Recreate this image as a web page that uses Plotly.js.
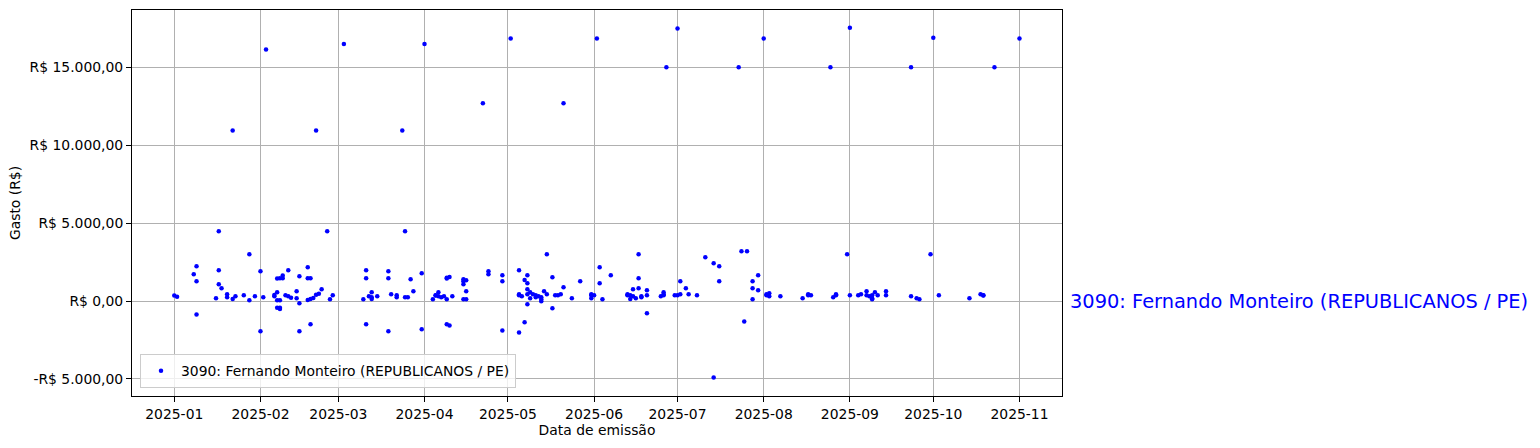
<!DOCTYPE html>
<html>
<head>
<meta charset="utf-8">
<script src="https://cdn.plot.ly/plotly-3.0.1.min.js"></script>
<style>html,body{margin:0;padding:0;background:#fff;}#chart{width:1540px;height:448px;}</style>
</head>
<body>
<div id="chart"></div>
<script>
const seriesName = "3090: Fernando Monteiro (REPUBLICANOS / PE)";

const dates = [
  "2025-01-01","2025-01-02","2025-01-08","2025-01-09","2025-01-09","2025-01-09","2025-01-16","2025-01-17","2025-01-17","2025-01-17",
  "2025-01-18","2025-01-20","2025-01-20","2025-01-22","2025-01-22","2025-01-23","2025-01-26","2025-01-28","2025-01-28","2025-01-30",
  "2025-02-01","2025-02-01","2025-02-02","2025-02-03","2025-02-06","2025-02-06","2025-02-07","2025-02-07","2025-02-08","2025-02-07",
  "2025-02-08","2025-02-09","2025-02-09","2025-02-07","2025-02-08","2025-02-08","2025-02-10","2025-02-11","2025-02-12","2025-02-11",
  "2025-02-14","2025-02-14","2025-02-15","2025-02-15","2025-02-15","2025-02-18","2025-02-18","2025-02-19","2025-02-19","2025-02-18",
  "2025-02-19","2025-02-20","2025-02-21","2025-02-21","2025-02-22","2025-02-23","2025-02-25","2025-02-26","2025-02-27",
  "2025-03-03","2025-03-10","2025-03-11","2025-03-11","2025-03-11","2025-03-12","2025-03-13","2025-03-13","2025-03-13","2025-03-15",
  "2025-03-19","2025-03-19","2025-03-19","2025-03-20","2025-03-22","2025-03-22","2025-03-24","2025-03-25","2025-03-25","2025-03-26",
  "2025-03-27","2025-03-28","2025-03-31","2025-03-31",
  "2025-04-01","2025-04-04","2025-04-05","2025-04-05","2025-04-06","2025-04-06","2025-04-07","2025-04-08","2025-04-09","2025-04-09",
  "2025-04-09","2025-04-09","2025-04-10","2025-04-10","2025-04-11","2025-04-15","2025-04-15","2025-04-15","2025-04-15","2025-04-16",
  "2025-04-16","2025-04-16","2025-04-22","2025-04-24","2025-04-24","2025-04-29","2025-04-29","2025-04-29",
  "2025-05-02","2025-05-05","2025-05-05","2025-05-05","2025-05-05","2025-05-06","2025-05-07","2025-05-07","2025-05-08","2025-05-08",
  "2025-05-08","2025-05-08","2025-05-08","2025-05-09","2025-05-09","2025-05-10","2025-05-11","2025-05-11","2025-05-12","2025-05-13",
  "2025-05-13","2025-05-13","2025-05-14","2025-05-15","2025-05-15","2025-05-17","2025-05-17","2025-05-18","2025-05-19","2025-05-20",
  "2025-05-21","2025-05-21","2025-05-24","2025-05-27","2025-05-31","2025-05-31","2025-05-31",
  "2025-06-01","2025-06-02","2025-06-03","2025-06-03","2025-06-04","2025-06-07","2025-06-13","2025-06-13","2025-06-14","2025-06-14",
  "2025-06-15","2025-06-15","2025-06-16","2025-06-17","2025-06-17","2025-06-17","2025-06-18","2025-06-18","2025-06-20","2025-06-20",
  "2025-06-20","2025-06-25","2025-06-26","2025-06-26","2025-06-26","2025-06-27","2025-06-30",
  "2025-07-01","2025-07-01","2025-07-02","2025-07-02","2025-07-04","2025-07-05","2025-07-08","2025-07-11","2025-07-14","2025-07-14",
  "2025-07-16","2025-07-16","2025-07-23","2025-07-24","2025-07-25","2025-07-26","2025-07-28","2025-07-28","2025-07-28","2025-07-30",
  "2025-07-30",
  "2025-08-01","2025-08-02","2025-08-02","2025-08-03","2025-08-03","2025-08-07","2025-08-15","2025-08-17","2025-08-17","2025-08-18",
  "2025-08-25","2025-08-26","2025-08-27","2025-08-27","2025-08-31",
  "2025-09-01","2025-09-01","2025-09-04","2025-09-05","2025-09-07","2025-09-07","2025-09-08","2025-09-09","2025-09-09","2025-09-09",
  "2025-09-10","2025-09-11","2025-09-14","2025-09-14","2025-09-23","2025-09-23","2025-09-25","2025-09-26","2025-09-30",
  "2025-10-01","2025-10-03","2025-10-14","2025-10-18","2025-10-19","2025-10-19","2025-10-23",
  "2025-11-01"
];

const values = [
  350,280,1720,2230,1270,-860,170,4480,1970,1070,
  815,236,430,130,10950,300,365,3000,45,300,
  1910,-1950,236,16150,300,386,558,45,45,1440,
  1460,1630,1460,-430,-430,-515,365,300,214,1970,
  172,622,1590,-150,-1950,2170,1460,1460,-1500,64,
  129,193,408,10950,472,751,4480,107,365,
  16500,107,1970,1460,-1500,300,558,236,129,300,
  1910,-1950,1460,429,365,236,10950,4480,236,236,
  1390,622,1780,-1820,
  16500,107,365,350,558,300,236,300,107,1440,
  1500,-1500,1540,-1570,300,1390,1270,1070,107,1330,
  107,622,12700,1910,1720,1650,1270,-1890,
  16850,365,429,1970,-2020,300,1350,-1370,1650,1140,
  751,429,-215,558,172,429,365,236,300,-21,
  236,107,622,3000,429,1520,-472,365,365,429,
  12700,880,172,1270,172,365,429,
  365,16850,2170,1140,107,1650,365,429,129,365,
  751,300,172,3000,815,1460,300,236,365,686,
  -794,300,365,558,429,15000,365,
  365,17500,429,1270,815,429,365,2810,2420,-4910,
  2230,1270,15000,3200,-1310,3200,1270,815,107,1650,
  686,
  16850,365,429,493,300,300,172,365,429,365,
  15000,236,365,429,3000,
  17550,365,365,429,622,365,300,172,107,365,
  558,365,622,365,15000,300,172,107,3000,
  16900,365,172,429,365,350,15000,
  16850
];

const yTickVals = [-5000, 0, 5000, 10000, 15000];
const yTickText = ["-R$ 5.000,00", "R$ 0,00", "R$ 5.000,00", "R$ 10.000,00", "R$ 15.000,00"];

const FONT = "DejaVu Sans, Liberation Sans, sans-serif";

const trace = {
  type: "scatter",
  mode: "markers",
  x: dates,
  y: values,
  name: seriesName,
  marker: { color: "blue", size: 4.5 },
  showlegend: true
};

const layout = {
  width: 1540,
  height: 448,
  margin: { l: 132, r: 478, t: 10, b: 52, pad: 0 },
  paper_bgcolor: "#ffffff",
  plot_bgcolor: "#ffffff",
  font: { family: FONT, size: 13.9, color: "#000" },
  showlegend: true,
  xaxis: {
    type: "date",
    range: ["2024-12-16 19:00", "2025-11-16 07:00"],
    tick0: "2025-01-01",
    dtick: "M1",
    tickformat: "%Y-%m",
    showgrid: true,
    gridcolor: "#b0b0b0",
    gridwidth: 1,
    showline: true,
    mirror: true,
    linecolor: "#000",
    linewidth: 1,
    ticks: "outside",
    ticklen: 5,
    tickcolor: "#000",
    zeroline: false,
    tickfont: { family: FONT, size: 13.9, color: "#000" },
    title: { text: "Data de emissão", font: { family: FONT, size: 13.9, color: "#000" }, standoff: 4 },
    automargin: false
  },
  yaxis: {
    range: [-6099, 18682],
    tickvals: yTickVals,
    ticktext: yTickText,
    showgrid: true,
    gridcolor: "#b0b0b0",
    gridwidth: 1,
    showline: true,
    mirror: true,
    linecolor: "#000",
    linewidth: 1,
    ticks: "outside",
    ticklen: 5,
    tickcolor: "#000",
    zeroline: false,
    tickfont: { family: FONT, size: 13.9, color: "#000" },
    title: { text: "Gasto (R$)", font: { family: FONT, size: 13.9, color: "#000" }, standoff: 5 },
    automargin: false
  },
  legend: {
    x: 0.0086,
    y: 0.02,
    xanchor: "left",
    yanchor: "bottom",
    bgcolor: "rgba(255,255,255,0.8)",
    bordercolor: "#cccccc",
    borderwidth: 1,
    font: { family: FONT, size: 13.9, color: "#000" },
    itemsizing: "trace"
  },
  annotations: [{
    text: seriesName,
    xref: "paper",
    x: 1.0065,
    xanchor: "left",
    yref: "y",
    y: 0,
    yanchor: "middle",
    showarrow: false,
    font: { family: FONT, size: 19.4, color: "blue" }
  }]
};

Plotly.newPlot("chart", [trace], layout, { staticPlot: true, displayModeBar: false });
</script>
</body>
</html>
